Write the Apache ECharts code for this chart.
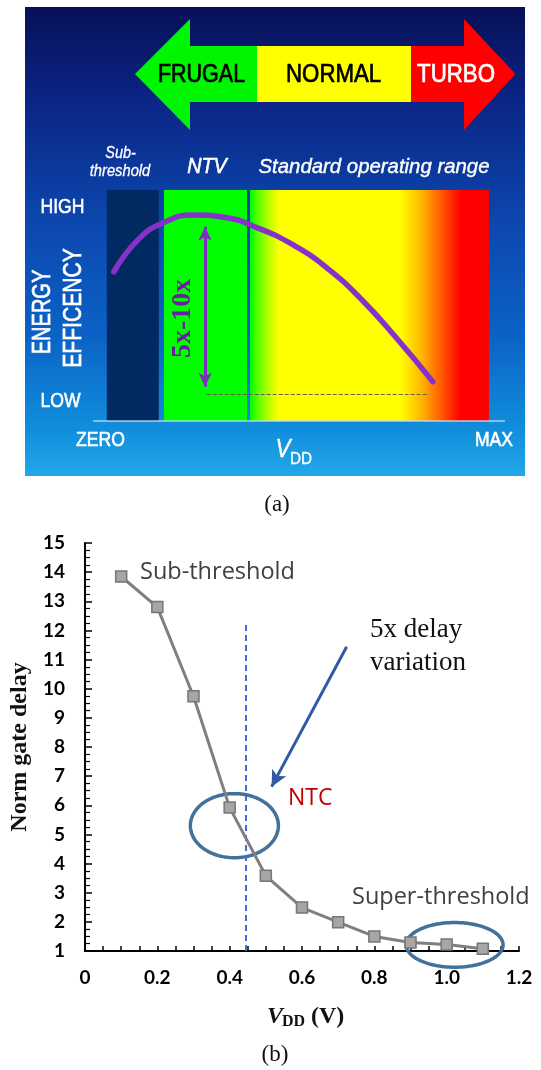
<!DOCTYPE html>
<html><head><meta charset="utf-8">
<script src="https://cdn.jsdelivr.net/npm/echarts@6/dist/echarts.min.js"></script>
<style>html,body{margin:0;padding:0;background:#fff}#c{width:541px;height:1070px}</style>
</head><body><div id="c"></div>
<script>
// ---------- (a) energy efficiency concept (normalised 0-100 axes) ----------
const effX = [5.05, 10.9, 16.8, 24.3, 31.8, 40.2, 48.6, 56.9, 65.3, 73.7, 82.5];
const effY = [64.6, 78.4, 85.6, 89.2, 88.2, 83.4, 76.2, 66.1, 52.4, 35.8, 17.0];
const zoneNames = ['Sub-threshold', 'NTV', 'Standard operating range'];
const zoneStart = [3.35, 17.23, 38.1];
const zoneEnd = [15.97, 37.38, 96.1];
const rangeArrowX = 27.2, rangeArrowTop = 84.1, rangeArrowBottom = 14.85;
const lowLineY = 11.56, lowLineX = [27.6, 81.6];

// ---------- (b) normalised gate delay vs VDD ----------
const vdd = [0.1, 0.2, 0.3, 0.4, 0.5, 0.6, 0.7, 0.8, 0.9, 1.0, 1.1];
const gateDelay = [13.85, 12.8, 9.74, 5.92, 3.58, 2.49, 1.99, 1.5, 1.29, 1.22, 1.08];
const xTickLabels = ['0', '0.2', '0.4', '0.6', '0.8', '1.0', '1.2'];
const yTickLabels = ['1','2','3','4','5','6','7','8','9','10','11','12','13','14','15'];
const ntvVdd = 0.444, ntvTop = 12.21;
// ellipses: [centerX, centerY, radiusX, radiusY] in data units
const ellipseCx = [0.413, 1.022];
const ellipseCy = [5.30, 1.21];
const ellipseRx = [0.1217, 0.134];
const ellipseRy = [1.10, 0.765];
const delayArrowFrom = [0.7235, 11.44];
const delayArrowTo = [0.516, 6.64];

const chart = echarts.init(document.getElementById('c'), null, {renderer: 'canvas', width: 541, height: 1070});

function txt(text, x, y, o) {
  o = o || {};
  const style = {
    text: text, fill: o.color || '#ffffff',
    fontSize: o.size || 16, fontFamily: o.family || 'Liberation Sans',
    fontWeight: o.weight || 'normal', fontStyle: o.style || 'normal',
    align: o.align || 'center', verticalAlign: 'middle'
  };
  if (o.thick) { style.stroke = o.color || '#ffffff'; style.lineWidth = o.thick; }
  return {type: 'text', x: x, y: y, rotation: o.rot || 0, scaleX: o.sx || 1, scaleY: 1, z: o.z || 50, style: style};
}

const bgGrad = new echarts.graphic.LinearGradient(0, 0, 0, 1, [
  {offset: 0, color: '#081058'},
  {offset: 0.2, color: '#0a2585'},
  {offset: 0.45, color: '#0c46ad'},
  {offset: 0.7, color: '#0b62c6'},
  {offset: 0.9, color: '#118edb'},
  {offset: 1, color: '#22a8ea'}
]);

const graphics = [
  {type: 'rect', z: -10, shape: {x: 25, y: 7, width: 500, height: 469}, style: {fill: bgGrad}},
  // top arrow banner
  {type: 'polygon', z: 1, shape: {points: [[135, 74], [190, 19], [190, 46], [258, 46], [258, 102], [190, 102], [190, 130]]}, style: {fill: '#00f500'}},
  {type: 'rect', z: 1, shape: {x: 257, y: 46, width: 155, height: 56}, style: {fill: '#ffff00'}},
  {type: 'polygon', z: 1, shape: {points: [[411, 46], [464, 46], [464, 19], [515.5, 74], [464, 130], [464, 102], [411, 102]]}, style: {fill: '#ff0000'}},
  txt('FRUGAL', 201.5, 75, {color: '#000', size: 25, sx: 0.86, thick: 0.7}),
  txt('NORMAL', 333.6, 75, {color: '#000', size: 25, sx: 0.89, thick: 0.7}),
  txt('TURBO', 456, 75, {color: '#fff', size: 25, sx: 0.89, thick: 0.7}),
  // region titles
  txt('Sub-', 120.5, 153.5, {size: 16, style: 'italic', sx: 0.9, thick: 0.3}),
  txt('threshold', 120, 172, {size: 16, style: 'italic', sx: 0.92, thick: 0.3}),
  txt('NTV', 207, 167, {size: 22, style: 'italic', sx: 0.9, thick: 0.6}),
  txt('Standard operating range', 374, 167, {size: 21, style: 'italic', sx: 0.97, thick: 0.4}),
  // axis words
  txt('HIGH', 62.5, 207, {size: 20, sx: 0.88, thick: 0.6}),
  txt('LOW', 60.5, 401, {size: 20, sx: 0.88, thick: 0.6}),
  txt('ZERO', 100.5, 440, {size: 20, sx: 0.88, thick: 0.6}),
  txt('MAX', 494, 440, {size: 20, sx: 0.88, thick: 0.6}),
  txt('ENERGY', 43, 312, {size: 26, sx: 0.77, rot: Math.PI / 2, thick: 0.7}),
  txt('EFFICENCY', 74, 308, {size: 26, sx: 0.81, rot: Math.PI / 2, thick: 0.7}),
  txt('V', 283, 450, {size: 25, style: 'italic', sx: 0.9, thick: 0.4}),
  txt('DD', 290, 459, {size: 17, align: 'left', sx: 0.9, thick: 0.3}),
  {type: 'line', z: 5, shape: {x1: 93, y1: 421, x2: 505, y2: 421}, style: {stroke: 'rgba(190,225,255,0.85)', lineWidth: 1.5}},
  txt('5x-10x', 182.8, 318.3, {size: 28, family: 'Liberation Serif', weight: 'bold', color: '#6a1fa0', rot: Math.PI / 2}),
  txt('(a)', 277, 505, {size: 23, family: 'Liberation Serif', color: '#111'}),
  // (b) annotations
  txt('Sub-threshold', 140, 572, {size: 23.5, family: 'Open Sans', color: '#404040', align: 'left'}),
  txt('5x delay', 370, 630, {size: 27, family: 'Liberation Serif', color: '#111', align: 'left'}),
  txt('variation', 370, 663, {size: 27, family: 'Liberation Serif', color: '#111', align: 'left'}),
  txt('NTC', 288, 798, {size: 23, family: 'Open Sans', color: '#c00000', align: 'left'}),
  txt('Super-threshold', 352, 897, {size: 23.5, family: 'Open Sans', color: '#404040', align: 'left'}),
  txt('V', 267, 1017, {size: 24, family: 'Liberation Serif', weight: 'bold', style: 'italic', color: '#111', align: 'left'}),
  txt('DD', 282, 1022, {size: 16, family: 'Liberation Serif', weight: 'bold', color: '#111', align: 'left'}),
  txt('(V)', 311, 1017, {size: 24, family: 'Liberation Serif', weight: 'bold', color: '#111', align: 'left'}),
  txt('(b)', 275, 1055, {size: 23, family: 'Liberation Serif', color: '#111'})
];

const zoneGradient = {
  type: 'linear', x: 0, y: 0, x2: 1, y2: 0,
  colorStops: [
    {offset: 0, color: '#00ff00'},
    {offset: 0.05, color: '#80ff00'},
    {offset: 0.12, color: '#ffff00'},
    {offset: 0.63, color: '#ffff00'},
    {offset: 0.72, color: '#ffb400'},
    {offset: 0.8, color: '#ff5a00'},
    {offset: 0.88, color: '#ff0000'},
    {offset: 1, color: '#ff0000'}
  ]
};
const zoneFills = ['#022a62', '#00ff00', zoneGradient];

const axisFont = {fontFamily: 'Lato', fontWeight: 'bold', fontSize: 19, color: '#000'};

const option = {
  animation: false,
  backgroundColor: '#ffffff',
  graphic: {elements: graphics},
  grid: [
    {left: 93, top: 190, width: 412, height: 231},
    {left: 85, top: 543, width: 434, height: 408}
  ],
  xAxis: [
    {gridIndex: 0, type: 'value', min: 0, max: 100, show: false},
    {
      gridIndex: 1, type: 'value', min: 0, max: 1.2, interval: 0.2,
      axisLine: {lineStyle: {color: '#000', width: 2}},
      axisTick: {show: true, inside: true, length: 5, lineStyle: {color: '#000', width: 1.5}},
      minorTick: {show: true, splitNumber: 4, length: 5, lineStyle: {color: '#000', width: 1.5}},
      splitLine: {show: false},
      axisLabel: Object.assign({margin: 17, formatter: v => xTickLabels[Math.round(v / 0.2)]}, axisFont)
    }
  ],
  yAxis: [
    {gridIndex: 0, type: 'value', min: 0, max: 100, show: false},
    {
      gridIndex: 1, type: 'value', min: 1, max: 15, interval: 1,
      name: 'Norm gate delay', nameLocation: 'middle', nameRotate: 90, nameGap: 46,
      nameTextStyle: {fontFamily: 'Liberation Serif', fontWeight: 'bold', fontSize: 24, color: '#111'},
      axisLine: {lineStyle: {color: '#000', width: 2}},
      axisTick: {show: true, inside: true, length: 7, lineStyle: {color: '#000', width: 1.5}},
      minorTick: {show: true, splitNumber: 4, length: 5, lineStyle: {color: '#000', width: 1.2}},
      splitLine: {show: false},
      axisLabel: Object.assign({margin: 20, formatter: v => yTickLabels[Math.round(v) - 1]}, axisFont)
    }
  ],
  series: [
    {
      type: 'custom', xAxisIndex: 0, yAxisIndex: 0, z: 1, silent: true,
      data: zoneNames.map((n, i) => [zoneStart[i], zoneEnd[i], i]),
      encode: {x: [0, 1]},
      renderItem: function (params, api) {
        const p0 = api.coord([api.value(0), 100]);
        const p1 = api.coord([api.value(1), 0]);
        return {type: 'rect', shape: {x: p0[0], y: p0[1], width: p1[0] - p0[0], height: p1[1] - p0[1]},
          style: {fill: zoneFills[api.value(2)]}};
      }
    },
    {
      type: 'line', xAxisIndex: 0, yAxisIndex: 0, z: 5, silent: true,
      data: effX.map((x, i) => [x, effY[i]]),
      smooth: 0.5, showSymbol: false, symbol: 'none',
      lineStyle: {color: '#8632c8', width: 5.5, cap: 'round'},
      markLine: {
        silent: true, animation: false, label: {show: false},
        data: [
          [{coord: [rangeArrowX, rangeArrowTop], symbol: 'arrow', symbolSize: [10, 14], lineStyle: {color: '#7d2fc0', width: 3, type: 'solid'}},
           {coord: [rangeArrowX, rangeArrowBottom], symbol: 'arrow', symbolSize: [10, 14]}],
          [{coord: [lowLineX[0], lowLineY], symbol: 'none', lineStyle: {color: '#6a5a4a', width: 1, type: [4, 2]}},
           {coord: [lowLineX[1], lowLineY], symbol: 'none'}]
        ]
      }
    },
    {
      type: 'custom', xAxisIndex: 1, yAxisIndex: 1, z: 3, silent: true,
      data: ellipseCx.map((c, i) => [c, ellipseCy[i], ellipseRx[i], ellipseRy[i]]),
      encode: {x: 0, y: 1},
      renderItem: function (params, api) {
        const c = api.coord([api.value(0), api.value(1)]);
        const e = api.coord([api.value(0) + api.value(2), api.value(1) + api.value(3)]);
        const rx = Math.abs(e[0] - c[0]), ry = Math.abs(e[1] - c[1]);
        const pts = [];
        for (let k = 0; k < 120; k++) {
          const t = k / 120 * Math.PI * 2;
          pts.push([c[0] + rx * Math.cos(t), c[1] + ry * Math.sin(t)]);
        }
        return {type: 'polygon', shape: {points: pts}, style: {fill: 'none', stroke: '#41719c', lineWidth: 3.5}};
      }
    },
    {
      type: 'line', xAxisIndex: 1, yAxisIndex: 1, z: 5, silent: true,
      data: vdd.map((x, i) => [x, gateDelay[i]]),
      symbol: 'rect', symbolSize: 11,
      lineStyle: {color: '#7f7f7f', width: 3},
      itemStyle: {color: '#a6a6a6', borderColor: '#767676', borderWidth: 1.5},
      markLine: {
        silent: true, animation: false, label: {show: false},
        data: [
          [{coord: [ntvVdd, 1], symbol: 'none', lineStyle: {color: '#3b6fd6', width: 2, type: [6, 4]}},
           {coord: [ntvVdd, ntvTop], symbol: 'none'}],
          [{coord: delayArrowFrom, symbol: 'none', lineStyle: {color: '#2f5aa6', width: 3, type: 'solid'}},
           {coord: delayArrowTo, symbol: 'arrow', symbolSize: [12, 16]}]
        ]
      }
    }
  ]
};
chart.setOption(option);
</script>
</body></html>
